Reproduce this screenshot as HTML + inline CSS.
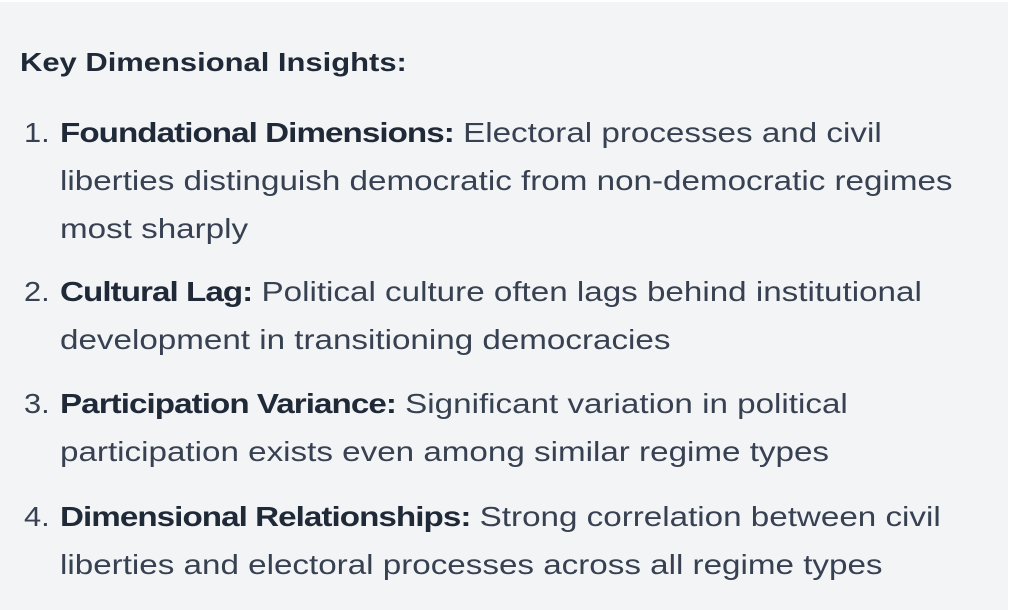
<!DOCTYPE html>
<html><head><meta charset="utf-8"><style>
html,body{margin:0;padding:0;}
body{width:1010px;height:610px;background:#fff;overflow:hidden;font-family:"Liberation Sans",sans-serif;}
.panel{position:absolute;left:0;top:2px;width:1008px;height:608px;background:#f3f4f6;}
h3{position:absolute;left:20px;top:40px;margin:0;font-size:26px;font-weight:bold;color:#1f2937;line-height:40px;transform:scaleX(1.19);transform-origin:left center;white-space:nowrap;}
.item{position:absolute;left:0;color:#374151;font-size:28px;line-height:48px;}
.num{position:absolute;left:24px;top:0;transform:scaleX(1.1);transform-origin:left center;}
.txt{position:absolute;left:60px;top:0;white-space:nowrap;transform:scaleX(1.185);transform-origin:left top;}
b{color:#1f2937;letter-spacing:-0.8px;}
</style></head><body>
<div class="panel">
<h3>Key Dimensional Insights:</h3>
<div class="item" style="top:107px"><span class="num">1.</span><span class="txt"><b>Foundational Dimensions:</b> Electoral processes and civil<br>liberties distinguish democratic from non-democratic regimes<br>most sharply</span></div>
<div class="item" style="top:266px"><span class="num">2.</span><span class="txt"><b>Cultural Lag:</b> Political culture often lags behind institutional<br>development in transitioning democracies</span></div>
<div class="item" style="top:378px"><span class="num">3.</span><span class="txt"><b>Participation Variance:</b> Significant variation in political<br>participation exists even among similar regime types</span></div>
<div class="item" style="top:491px"><span class="num">4.</span><span class="txt"><b>Dimensional Relationships:</b> Strong correlation between civil<br>liberties and electoral processes across all regime types</span></div>
</div>
</body></html>
